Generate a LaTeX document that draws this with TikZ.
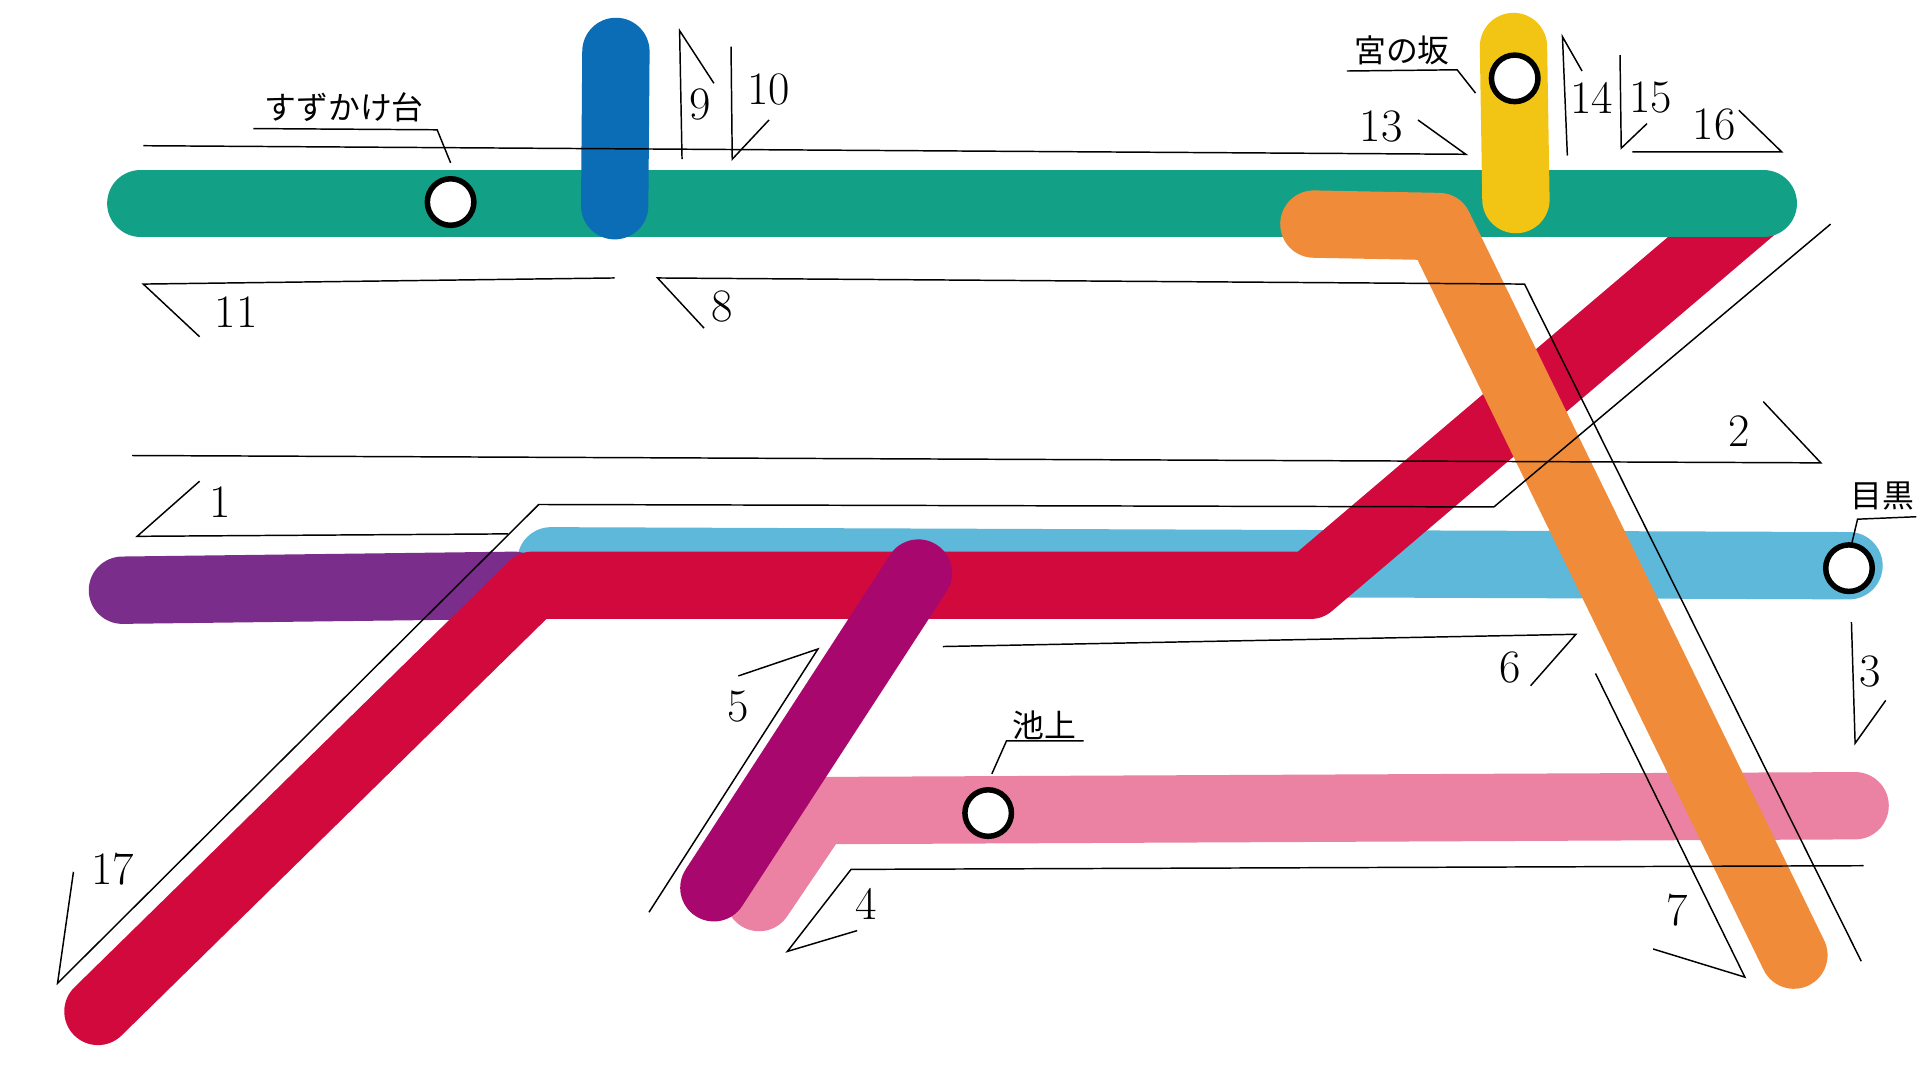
\documentclass[tikz,border=0pt]{standalone}
\usepackage{fontspec}
\newfontfamily\cjk{Noto Sans CJK JP}
\definecolor{teal1}{HTML}{12A087}
\definecolor{blue1}{HTML}{0B6DB5}
\definecolor{yel}{HTML}{F2C514}
\definecolor{ora}{HTML}{F08B3A}
\definecolor{lb}{HTML}{5DB8DA}
\definecolor{pur}{HTML}{7B2D8B}
\definecolor{red1}{HTML}{D2093C}
\definecolor{pink1}{HTML}{EC82A3}
\definecolor{mag}{HTML}{A8086E}
\begin{document}
\begin{tikzpicture}[x=1pt,y=-1pt,
 route/.style={line width=55pt,line cap=round,line join=round},
 stn/.style={circle,draw=black,fill=white,line width=4.5pt,minimum size=38pt,inner sep=0pt},
 call/.style={line width=1.2pt},
 num/.style={font=\fontsize{38}{38}\selectfont},
 jp/.style={font=\cjk\fontsize{26}{26}\selectfont}]
\useasboundingbox (0,0) rectangle (1568,882);
\fill[white] (0,0) rectangle (1568,882);
% routes
\draw[route,pink1] (620,733) -- (668,662) -- (1515,658);
\draw[route,lb] (450,458) -- (1510,462);
\draw[route,pur] (100,482) -- (420,478);
\draw[route,red1] (80,826) -- (435,478) -- (1070,478) -- (1430,172);
\draw[route,teal1] (115,166) -- (1440,166);
\draw[route,blue1] (503,42) -- (502,168);
\draw[route,yel] (1236,38) -- (1238,163);
\draw[route,ora] (1073,183) -- (1175,185) -- (1465,780);
\draw[route,mag] (583,725) -- (750,468);
% stations
\node[stn] (s1) at (368,165) {};
\node[stn] (s2) at (1237,64) {};
\node[stn] (s3) at (1510,464) {};
\node[stn] (s4) at (807,664) {};
% callouts
\draw[call] (502,227) -- (117,232) -- (163,275);
\draw[call] (575,268) -- (537,227) -- (1245,232) -- (1520,785);
\draw[call] (557,130) -- (555,25) -- (583,68);
\draw[call] (597,38) -- (598,130) -- (628,98);
\draw[call] (117,119) -- (1197,126) -- (1158,98);
\draw[call] (1280,127) -- (1276,30) -- (1292,58);
\draw[call] (1323,45) -- (1324,121) -- (1345,101);
\draw[call] (1333,124) -- (1455,124) -- (1420,90);
\draw[call] (108,372) -- (1487,378) -- (1440,328);
\draw[call] (415,436) -- (112,438) -- (163,393);
\draw[call] (60,712) -- (47,803) -- (440,412) -- (1220,414) -- (1495,183);
\draw[call] (1512,508) -- (1515,607) -- (1540,572);
\draw[call] (770,528) -- (1287,518) -- (1250,560);
\draw[call] (530,745) -- (668,530) -- (603,552);
\draw[call] (1522,707) -- (695,710) -- (643,777) -- (700,760);
\draw[call] (1303,550) -- (1425,798) -- (1350,775);
\draw[call] (368,133) -- (357,106) -- (207,105);
\draw[call] (1205,76) -- (1190,57) -- (1100,58);
\draw[call] (1512,445) -- (1517,424) -- (1565,422);
\draw[call] (810,632) -- (822,605) -- (885,605);
% labels
\node[num] (l1) at (180,410) {1};
\node[num] (l2) at (1420,352) {2};
\node[num] (l3) at (1527,548) {3};
\node[num] (l4) at (707,738) {4};
\node[num] (l5) at (603,577) {5};
\node[num] (l6) at (1233,545) {6};
\node[num] (l7) at (1370,743) {7};
\node[num] (l8) at (590,250) {8};
\node[num] (l9) at (572,85) {9};
\node[num] (l10) at (628,73) {10};
\node[num] (l11) at (193,255) {11};
\node[num] (l13) at (1128,103) {13};
\node[num] (l14) at (1300,80) {14};
\node[num] (l15) at (1348,80) {15};
\node[num] (l16) at (1400,102) {16};
\node[num] (l17) at (92,710) {17};
\node[jp] (j1) at (281,88) {すずかけ台};
\node[jp] (j2) at (1145,41) {宮の坂};
\node[jp] (j3) at (1537,405) {目黒};
\node[jp] (j4) at (853,592) {池上};
\end{tikzpicture}
\end{document}
